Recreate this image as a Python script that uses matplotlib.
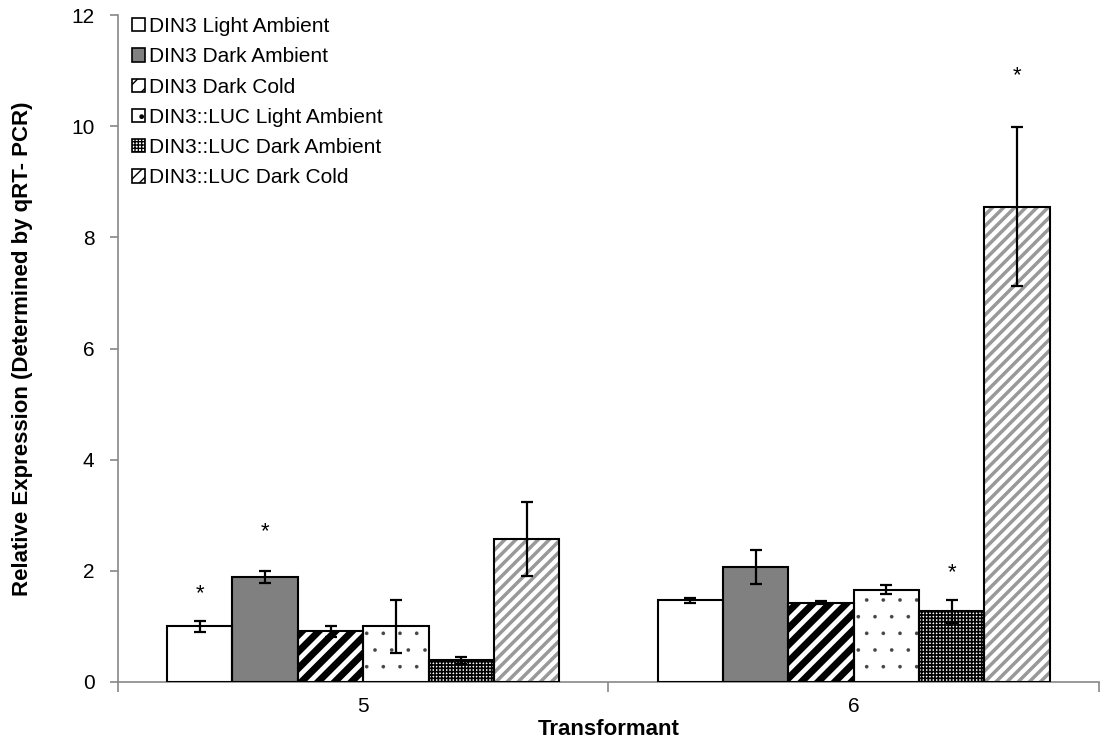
import matplotlib.pyplot as plt
import numpy as np

plt.rcParams['font.family'] = ['Liberation Sans', 'DejaVu Sans']

transformants = ["5", "6"]
series = ["DIN3 Light Ambient", "DIN3 Dark Ambient", "DIN3 Dark Cold",
          "DIN3::LUC Light Ambient", "DIN3::LUC Dark Ambient", "DIN3::LUC Dark Cold"]
# values[series][transformant]
values = [[1.00, 1.47],
          [1.89, 2.07],
          [0.91, 1.43],
          [1.00, 1.66],
          [0.39, 1.27],
          [2.57, 8.55]]
errors = [[0.10, 0.05],
          [0.11, 0.31],
          [0.10, 0.03],
          [0.47, 0.08],
          [0.06, 0.21],
          [0.67, 1.43]]
# height where a "*" is drawn, None for no star
stars = [[1.59, None],
         [2.70, None],
         [None, None],
         [None, None],
         [None, 1.96],
         [None, 10.9]]

# (face, hatch, hatch colour, hatch linewidth)
styles = [("white", None, "black", 1.0),
          ("#808080", None, "black", 1.0),
          ("white", "//", "black", 5.0),
          ("white", ".", "#444444", 0.2),
          ("white", "+++++", "black", 1.2),
          ("white", "///", "#999999", 2.5)]

fig = plt.figure(figsize=(11, 7.4), dpi=100)
ax = fig.add_axes([0.1073, 0.0784, 0.8917, 0.9013])

x = np.arange(len(transformants))
n = len(series)
group_w = 0.80
w = group_w / n
handles = []
for i, name in enumerate(series):
    pos = x - group_w / 2 + w * (i + 0.5)
    face, hatch, hcol, hlw = styles[i]
    with plt.rc_context({'hatch.linewidth': hlw}):
        ax.bar(pos, values[i], w, color=face, edgecolor=hcol, hatch=hatch,
               linewidth=0, zorder=2)
    ax.bar(pos, values[i], w, facecolor="none", edgecolor="black",
           linewidth=1.5, zorder=3)
    ax.errorbar(pos, values[i], yerr=errors[i], fmt="none", ecolor="black",
                elinewidth=1.6, capsize=4, capthick=1.6, zorder=4)
    for j in range(len(transformants)):
        if stars[i][j] is not None:
            ax.text(pos[j], stars[i][j], "*", ha="center", va="center",
                    fontsize=16, zorder=5)
    with plt.rc_context({'hatch.linewidth': min(hlw, 1.0)}):
        h = plt.Rectangle((0, 0), 1, 1, facecolor=face, edgecolor="black",
                          hatch=hatch, linewidth=1.2)
    handles.append(h)

ax.set_xlim(-0.5, len(transformants) - 0.5)
ax.set_ylim(0, 12)
ax.set_yticks(range(0, 13, 2))
ax.set_xticks(x)
ax.set_xticklabels(transformants)
ax.set_xticks(np.arange(-0.5, len(transformants), 1.0), minor=True)
ax.tick_params(axis="x", which="major", length=0, labelsize=15, pad=11)
ax.tick_params(axis="x", which="minor", length=7, color="#888888", width=1.2)
ax.tick_params(axis="y", length=6, color="#888888", width=1.2, labelsize=15, pad=11)

for s in ["top", "right"]:
    ax.spines[s].set_visible(False)
for s in ["left", "bottom"]:
    ax.spines[s].set_color("#888888")
    ax.spines[s].set_linewidth(1.2)

ax.set_ylabel("Relative Expression (Determined by qRT- PCR)", fontsize=16,
              fontweight="bold")
ax.yaxis.set_label_coords(-0.087, 0.5)
ax.set_xlabel("Transformant", fontsize=16, fontweight="bold")
ax.xaxis.set_label_coords(0.5, -0.056)

ax.legend(handles, series, loc="upper left", bbox_to_anchor=(0.0125, 1.0),
          frameon=False, fontsize=15, handlelength=0.6, handleheight=0.6,
          handletextpad=0.2, labelspacing=0.54, borderaxespad=0.0,
          borderpad=0.1)

fig.savefig("out.png", dpi=100)
